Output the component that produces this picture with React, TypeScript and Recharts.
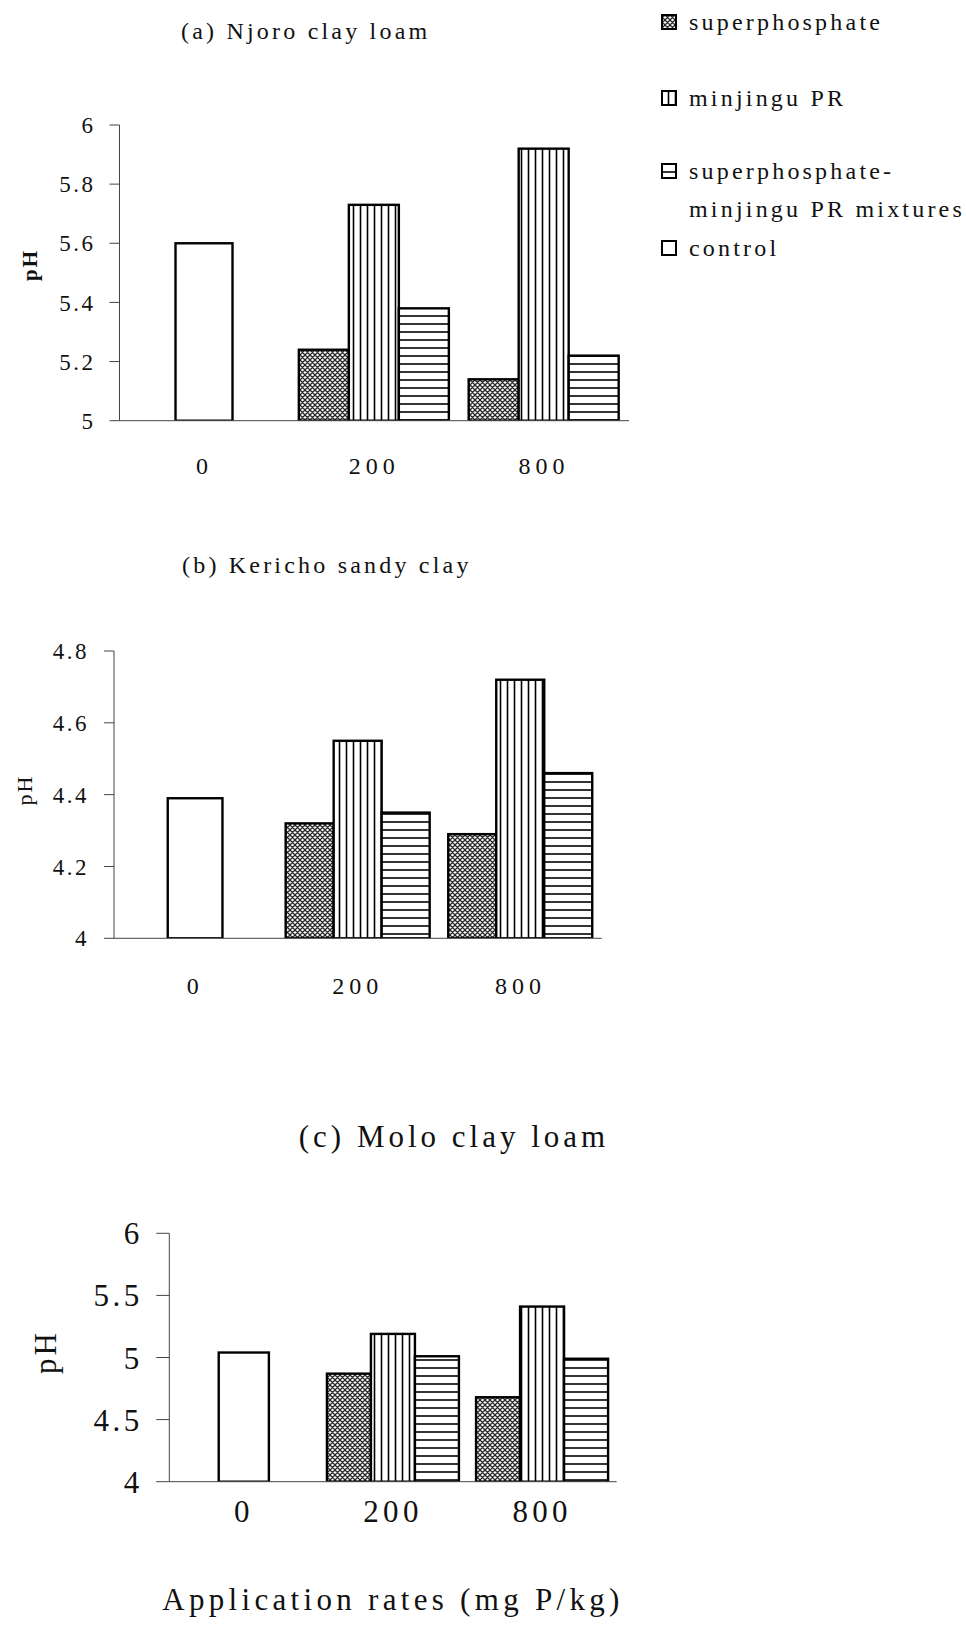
import React from 'react';
import { BarChart, Bar, XAxis, YAxis } from 'recharts';

// ---------- data ----------
const rates = ['0', '200', '800'];

const njoroSuperphosphate = [null, 5.24, 5.14];
const njoroMinjingu = [null, 5.73, 5.92];
const njoroMixture = [null, 5.38, 5.22];
const njoroControl = [5.6, null, null];
const njoroTicks = [5, 5.2, 5.4, 5.6, 5.8, 6];

const kerichoSuperphosphate = [null, 4.32, 4.29];
const kerichoMinjingu = [null, 4.55, 4.72];
const kerichoMixture = [null, 4.35, 4.46];
const kerichoControl = [4.39, null, null];
const kerichoTicks = [4, 4.2, 4.4, 4.6, 4.8];

const moloSuperphosphate = [null, 4.87, 4.68];
const moloMinjingu = [null, 5.19, 5.41];
const moloMixture = [null, 5.01, 4.99];
const moloControl = [5.04, null, null];
const moloTicks = [4, 4.5, 5, 5.5, 6];

const boundaryTicks = [0, 1, 2, 3];

const titleA = '(a) Njoro clay loam';
const titleB = '(b) Kericho sandy clay';
const titleC = '(c) Molo clay loam';
const yLabel = 'pH';
const xTitle = 'Application rates (mg P/kg)';
const legendNames = ['superphosphate', 'minjingu PR', 'superphosphate-', 'minjingu PR mixtures', 'control'];

type Row = { rate: string; sp: number | null; mid: number | null; mix: number | null; control: number | null };

const buildRows = (sp: (number | null)[], mj: (number | null)[], mx: (number | null)[], ct: (number | null)[]): Row[] =>
  rates.map((rate, i) => ({
    rate,
    sp: sp[i],
    mid: ct[i] != null ? ct[i] : mj[i],
    mix: mx[i],
    control: ct[i],
  }));

const rowsA = buildRows(njoroSuperphosphate, njoroMinjingu, njoroMixture, njoroControl);
const rowsB = buildRows(kerichoSuperphosphate, kerichoMinjingu, kerichoMixture, kerichoControl);
const rowsC = buildRows(moloSuperphosphate, moloMinjingu, moloMixture, moloControl);

const FONT = '"Liberation Serif", "Times New Roman", serif';
const INK = '#111';
const AXIS = '#444';

// ---------- bar shapes ----------
const makeShape = (key: 'sp' | 'mid' | 'mix') => (props: any) => {
  const { x, y, width, height, payload } = props;
  if (!payload || payload[key] == null || !(height > 0)) return <g />;
  let fill = 'url(#patCross)';
  let w = width;
  let xx = x;
  if (key === 'mid') {
    if (payload.control != null) {
      fill = '#ffffff';
      w = width * 1.14;
      xx = x - (w - width) / 2;
    } else {
      fill = 'url(#patVert)';
    }
  } else if (key === 'mix') {
    fill = 'url(#patHoriz)';
  }
  return <rect x={xx} y={y} width={w} height={height} fill={fill} stroke="#000" strokeWidth={2.4} />;
};
const spShape = makeShape('sp');
const midShape = makeShape('mid');
const mixShape = makeShape('mix');

type PanelProps = {
  top: number;
  width: number;
  height: number;
  rows: Row[];
  ticks: number[];
  margin: { top: number; right: number; left: number; bottom: number };
  yWidth: number;
  yFont: number;
  ySpacing: number;
  xFont: number;
  xSpacing: number;
  tickSizeY: number;
  tickMarginY: number;
  tickSizeX: number;
  xLabelMargin: number;
  xLabelHeight: number;
  gap: string;
};

const Panel = (p: PanelProps) => {
  const yTickFont = { fontSize: p.yFont, fontFamily: FONT, fill: INK, letterSpacing: p.ySpacing };
  const xTickFont = { fontSize: p.xFont, fontFamily: FONT, fill: INK, letterSpacing: p.xSpacing };
  return (
    <div style={{ position: 'absolute', left: 0, top: p.top, width: p.width, height: p.height }}>
      <BarChart width={p.width} height={p.height} data={p.rows} margin={p.margin} barGap={0} barCategoryGap={p.gap}>
        <XAxis
          xAxisId={0}
          type="number"
          domain={[0, 3]}
          ticks={boundaryTicks}
          allowDataOverflow
          interval={0}
          tick={false}
          tickSize={p.tickSizeX}
          height={p.tickSizeX + 1}
          stroke={AXIS}
        />
        <XAxis
          xAxisId={1}
          type="category"
          dataKey="rate"
          axisLine={false}
          tickLine={false}
          tickSize={0}
          tickMargin={p.xLabelMargin}
          height={p.xLabelHeight}
          interval={0}
          tick={xTickFont}
        />
        <YAxis
          type="number"
          domain={[p.ticks[0], p.ticks[p.ticks.length - 1]]}
          ticks={p.ticks}
          interval={0}
          allowDataOverflow
          width={p.yWidth}
          tickSize={p.tickSizeY}
          tickMargin={p.tickMarginY}
          stroke={AXIS}
          tick={yTickFont}
        />
        <Bar xAxisId={1} dataKey="sp" isAnimationActive={false} shape={spShape} />
        <Bar xAxisId={1} dataKey="mid" isAnimationActive={false} shape={midShape} />
        <Bar xAxisId={1} dataKey="mix" isAnimationActive={false} shape={mixShape} />
      </BarChart>
    </div>
  );
};

const LegendIcon = ({ y, fill }: { y: number; fill: string }) => (
  <rect x={662} y={y} width={14} height={14} fill={fill} stroke="#000" strokeWidth={2} />
);

export default function App() {
  const small = { fontFamily: FONT, fontSize: 24, fill: INK, letterSpacing: 3.2 } as const;
  const big = { fontFamily: FONT, fontSize: 31, fill: INK, letterSpacing: 4 } as const;
  return (
    <div style={{ position: 'absolute', left: 0, top: 0, width: 966, height: 1629, background: '#fff' }}>
      <svg width={0} height={0} style={{ position: 'absolute' }}>
        <defs>
          <pattern id="patCross" patternUnits="userSpaceOnUse" width={5} height={5}>
            <rect width={5} height={5} fill="#ffffff" />
            <path d="M0,0 L5,5 M5,0 L0,5 M-1,4 L1,6 M4,-1 L6,1 M-1,1 L1,-1 M4,6 L6,4" stroke="#2a2a2a" strokeWidth={1.3} />
          </pattern>
          <pattern id="patVert" patternUnits="userSpaceOnUse" width={7} height={10}>
            <rect width={7} height={10} fill="#ffffff" />
            <line x1={3.5} y1={0} x2={3.5} y2={10} stroke="#000" strokeWidth={1.6} />
          </pattern>
          <pattern id="patHoriz" patternUnits="userSpaceOnUse" width={10} height={8}>
            <rect width={10} height={8} fill="#ffffff" />
            <line x1={0} y1={4} x2={10} y2={4} stroke="#000" strokeWidth={1.6} />
          </pattern>
        </defs>
      </svg>

      <Panel
        top={0}
        width={660}
        height={520}
        rows={rowsA}
        ticks={njoroTicks}
        margin={{ top: 125, right: 31, left: 0, bottom: 29.3 }}
        yWidth={119.5}
        yFont={23}
        ySpacing={2.5}
        xFont={24}
        xSpacing={5}
        tickSizeY={10}
        tickMarginY={14}
        tickSizeX={9}
        xLabelMargin={26}
        xLabelHeight={60}
        gap="5.6%"
      />
      <Panel
        top={530}
        width={640}
        height={520}
        rows={rowsB}
        ticks={kerichoTicks}
        margin={{ top: 121, right: 38.3, left: 0, bottom: 41.7 }}
        yWidth={114}
        yFont={23}
        ySpacing={2.5}
        xFont={24}
        xSpacing={5}
        tickSizeY={10}
        tickMarginY={15}
        tickSizeX={9}
        xLabelMargin={29}
        xLabelHeight={60}
        gap="5.6%"
      />
      <Panel
        top={1100}
        width={660}
        height={529}
        rows={rowsC}
        ticks={moloTicks}
        margin={{ top: 133.3, right: 43.3, left: 0, bottom: 54.3 }}
        yWidth={169.3}
        yFont={31}
        ySpacing={3.5}
        xFont={31}
        xSpacing={4.3}
        tickSizeY={13}
        tickMarginY={13.5}
        tickSizeX={12}
        xLabelMargin={5}
        xLabelHeight={80}
        gap="5.7%"
      />

      <svg width={966} height={1629} style={{ position: 'absolute', left: 0, top: 0, pointerEvents: 'none' }}>
        <text x={181} y={39} {...small}>{titleA}</text>
        <text x={182} y={573} {...small}>{titleB}</text>
        <text x={454} y={1147} textAnchor="middle" {...big}>{titleC}</text>

        <text x={0} y={0} transform="translate(30,265) rotate(-90)" textAnchor="middle" dominantBaseline="central"
          fontFamily={FONT} fontSize={21} fontWeight="bold" fill={INK} letterSpacing={2}>{yLabel}</text>
        <text x={0} y={0} transform="translate(24,790) rotate(-90)" textAnchor="middle" dominantBaseline="central"
          fontFamily={FONT} fontSize={22} fill={INK} letterSpacing={2}>{yLabel}</text>
        <text x={0} y={0} transform="translate(45,1352) rotate(-90)" textAnchor="middle" dominantBaseline="central"
          fontFamily={FONT} fontSize={31} fill={INK} letterSpacing={3}>{yLabel}</text>

        <text x={393} y={1610} textAnchor="middle" fontFamily={FONT} fontSize={31} fill={INK} letterSpacing={4.3}>{xTitle}</text>

        <LegendIcon y={15} fill="url(#patCross)" />
        <LegendIcon y={91} fill="url(#patVert)" />
        <LegendIcon y={164} fill="url(#patHoriz)" />
        <LegendIcon y={241} fill="#ffffff" />
        <text x={689} y={30} {...small}>{legendNames[0]}</text>
        <text x={689} y={106} {...small}>{legendNames[1]}</text>
        <text x={689} y={179} {...small}>{legendNames[2]}</text>
        <text x={689} y={217} {...small}>{legendNames[3]}</text>
        <text x={689} y={256} {...small}>{legendNames[4]}</text>
      </svg>
    </div>
  );
}
